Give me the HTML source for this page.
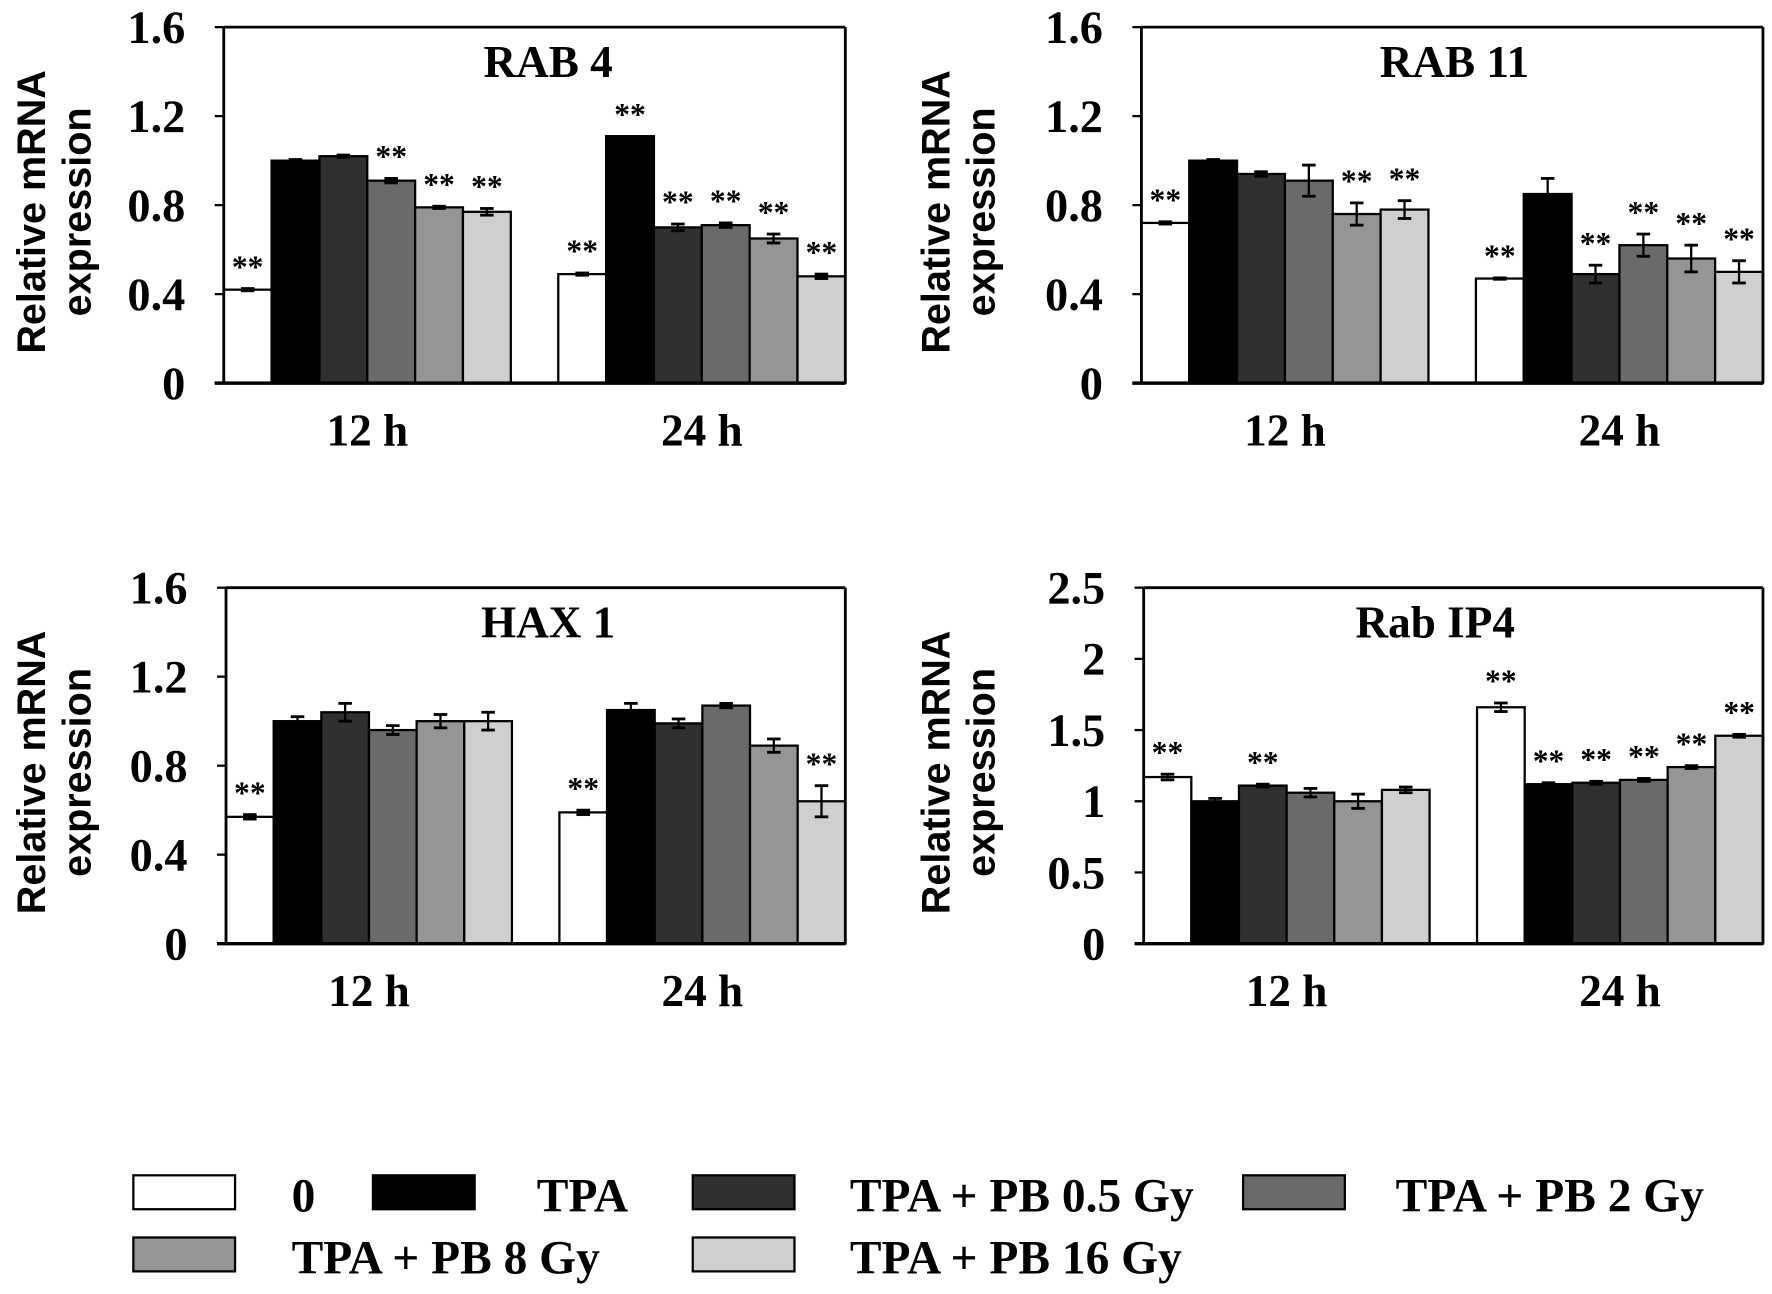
<!DOCTYPE html>
<html><head><meta charset="utf-8"><style>
html,body{margin:0;padding:0;background:#fff;}
svg{display:block;}
text{font-family:"Liberation Serif",serif;font-weight:bold;fill:#000;}
.yt{font-family:"Liberation Sans",sans-serif;}
</style></head><body>
<svg id="fig" width="1772" height="1294" viewBox="0 0 1568 1145" xmlns="http://www.w3.org/2000/svg"></svg>
<script>
const groups = ["12 h", "24 h"];
const seriesNames = ["0", "TPA", "TPA + PB 0.5 Gy", "TPA + PB 2 Gy", "TPA + PB 8 Gy", "TPA + PB 16 Gy"];
const rab4Values = [[0.42, 1.0, 1.02, 0.91, 0.79, 0.77], [0.49, 1.11, 0.70, 0.71, 0.65, 0.48]];
const rab4Errors = [[0.005, 0.005, 0.005, 0.01, 0.005, 0.015], [0.005, 0, 0.015, 0.01, 0.02, 0.01]];
const rab4Stars = [[1, 0, 0, 1, 1, 1], [1, 1, 1, 1, 1, 1]];
const rab11Values = [[0.72, 1.0, 0.94, 0.91, 0.76, 0.78], [0.47, 0.85, 0.49, 0.62, 0.56, 0.50]];
const rab11Errors = [[0.005, 0.005, 0.01, 0.07, 0.05, 0.04], [0.003, 0.07, 0.04, 0.05, 0.06, 0.05]];
const rab11Stars = [[1, 0, 0, 0, 1, 1], [1, 0, 1, 1, 1, 1]];
const hax1Values = [[0.57, 1.0, 1.04, 0.96, 1.0, 1.0], [0.59, 1.05, 0.99, 1.07, 0.89, 0.64]];
const hax1Errors = [[0.01, 0.02, 0.04, 0.02, 0.03, 0.04], [0.01, 0.03, 0.02, 0.01, 0.03, 0.07]];
const hax1Stars = [[1, 0, 0, 0, 0, 0], [1, 0, 0, 0, 0, 1]];
const ip4Values = [[1.17, 1.0, 1.11, 1.06, 1.0, 1.08], [1.66, 1.12, 1.13, 1.15, 1.24, 1.46]];
const ip4Errors = [[0.02, 0.02, 0.01, 0.03, 0.05, 0.02], [0.03, 0.01, 0.01, 0.01, 0.01, 0.01]];
const ip4Stars = [[1, 0, 1, 0, 0, 0], [1, 1, 1, 1, 1, 1]];
const ticks16 = ["0", "0.4", "0.8", "1.2", "1.6"];
const ticks25 = ["0", "0.5", "1", "1.5", "2", "2.5"];

const colors = ["#ffffff", "#000000", "#303030", "#6a6a6a", "#959595", "#cfcfcf"];
const NS = "http://www.w3.org/2000/svg";
const svg = document.getElementById("fig");
function mk(tag, attrs, parent) {
  const e = document.createElementNS(NS, tag);
  for (const k in attrs) e.setAttribute(k, attrs[k]);
  (parent || svg).appendChild(e);
  return e;
}

function panel(cfg) {
  const g = mk("g", {});
  
  
  const ymax = parseFloat(cfg.ticks[cfg.ticks.length - 1]);
  const ys = v => cfg.yb - (v / ymax) * (cfg.yb - cfg.yt);
  const midGap = 42;
  const bw = (cfg.x1 - cfg.x0 - midGap) / 12;
  const xs = (gi, si) => cfg.x0 + gi * (6 * bw + midGap) + si * bw;
  cfg.ticks.forEach(t => {
    const y = ys(parseFloat(t));
    mk("line", {x1: cfg.x0 - 8, x2: cfg.x0, y1: y, y2: y, stroke: "#000", "stroke-width": 2}, g);
    const tx = mk("text", {x: cfg.x0 - 34, y: y + 14, "text-anchor": "end", "font-size": 41}, g);
    tx.textContent = t;
    
    
  });
  cfg.values.forEach((vals, gi) => {
    vals.forEach((v, si) => {
      const x = xs(gi, si), y = ys(v);
      const r = mk("rect", {x: x, y: y, width: bw, height: cfg.yb - y, fill: colors[si], stroke: "#000", "stroke-width": 2}, g);
      
      
      const e = cfg.errors[gi][si];
      const cx = x + bw / 2;
      if (e > 0) {
        const yt = ys(v + e), yb2 = ys(v - e);
        mk("line", {x1: cx, x2: cx, y1: yt, y2: yb2, stroke: "#000", "stroke-width": 2}, g);
        mk("line", {x1: cx - 6, x2: cx + 6, y1: yt, y2: yt, stroke: "#000", "stroke-width": 2.5}, g);
        mk("line", {x1: cx - 6, x2: cx + 6, y1: yb2, y2: yb2, stroke: "#000", "stroke-width": 2.5}, g);
      }
      if (cfg.stars[gi][si]) {
        const st = mk("text", {x: cx, y: ys(v + e) - 10, "text-anchor": "middle", "font-size": 28}, g);
        st.textContent = "**";
        
        
      }
    });
    const lx = xs(gi, 0) + 3 * bw;
    const lt = mk("text", {x: lx, y: cfg.yb + 55, "text-anchor": "middle", "font-size": 40}, g);
    lt.textContent = groups[gi];
    
    
  });
  mk("line", {x1: cfg.x0, x2: cfg.x1, y1: cfg.yt, y2: cfg.yt, stroke: "#000", "stroke-width": 2.5}, g);
  mk("line", {x1: cfg.x1, x2: cfg.x1, y1: cfg.yt, y2: cfg.yb, stroke: "#000", "stroke-width": 2.5}, g);
  mk("line", {x1: cfg.x0, x2: cfg.x0, y1: cfg.yt, y2: cfg.yb, stroke: "#000", "stroke-width": 2.5}, g);
  mk("line", {x1: cfg.x0 - 8, x2: cfg.x1, y1: cfg.yb, y2: cfg.yb, stroke: "#000", "stroke-width": 3}, g);
  const ti = mk("text", {x: cfg.tx, y: cfg.yt + 44, "text-anchor": "middle", "font-size": 40}, g);
  ti.textContent = cfg.title;
  
  
  const cy = (cfg.yt + cfg.yb) / 2 + 6;
  const y1 = mk("text", {class: "yt", transform: "translate(" + (cfg.ytx + 12) + "," + cy + ") rotate(-90)", "text-anchor": "middle", "font-size": 35}, g);
  y1.textContent = "Relative mRNA";
  
  
  const y2 = mk("text", {class: "yt", transform: "translate(" + (cfg.ytx + 52) + "," + cy + ") rotate(-90)", "text-anchor": "middle", "font-size": 35}, g);
  y2.textContent = "expression";
  
  
}

panel({name: "rab4-chart", title: "RAB 4", x0: 198, x1: 748, yt: 24, yb: 339, tx: 485, ytx: 28, ticks: ticks16, values: rab4Values, errors: rab4Errors, stars: rab4Stars});
panel({name: "rab11-chart", title: "RAB 11", x0: 1010, x1: 1560, yt: 24, yb: 339, tx: 1287, ytx: 828, ticks: ticks16, values: rab11Values, errors: rab11Errors, stars: rab11Stars});
panel({name: "hax1-chart", title: "HAX 1", x0: 200, x1: 748, yt: 520, yb: 835, tx: 485, ytx: 28, ticks: ticks16, values: hax1Values, errors: hax1Errors, stars: hax1Stars});
panel({name: "rabip4-chart", title: "Rab IP4", x0: 1012, x1: 1560, yt: 520, yb: 835, tx: 1270, ytx: 828, ticks: ticks25, values: ip4Values, errors: ip4Errors, stars: ip4Stars});

const legPos = [[118, 1040, 258], [330, 1040, 475], [613, 1040, 752], [1100, 1040, 1235], [118, 1095, 258], [613, 1095, 752]];
const lg = mk("g", {});


seriesNames.forEach((n, i) => {
  const p = legPos[i];
  const r = mk("rect", {x: p[0], y: p[1], width: 90, height: 30, fill: colors[i], stroke: "#000", "stroke-width": 2}, lg);
  
  
  const t = mk("text", {x: p[2], y: p[1] + 32, "font-size": 42}, lg);
  t.textContent = n;
  
  
});
</script>
</body></html>
